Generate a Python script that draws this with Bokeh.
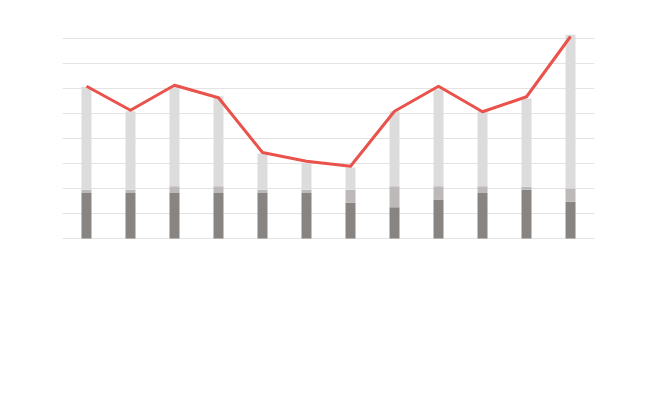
from bokeh.plotting import figure
from bokeh.models import ColumnDataSource, FixedTicker, Range1d
from bokeh.embed import file_html
from bokeh.resources import INLINE

# Data (unit = one gridline step)
months = [str(i) for i in range(1, 13)]
base_vals = [1.82, 1.82, 1.82, 1.82, 1.82, 1.82, 1.43, 1.25, 1.56, 1.82, 1.95, 1.47]
mid_vals = [0.13, 0.13, 0.27, 0.27, 0.13, 0.13, 0.52, 0.84, 0.53, 0.27, 0.12, 0.53]
top_vals = [4.12, 3.14, 3.98, 3.60, 1.45, 1.08, 0.89, 3.00, 3.87, 3.00, 3.53, 6.15]
line_vals = [6.09, 5.13, 6.13, 5.63, 3.44, 3.09, 2.89, 5.09, 6.09, 5.07, 5.67, 8.08]

xs = list(range(len(months)))
src = ColumnDataSource(dict(x=xs, base=base_vals, mid=mid_vals, top=top_vals, line=line_vals))

p = figure(frame_width=532, frame_height=206, width=648, height=408,
           x_range=Range1d(-0.545, 11.545), y_range=Range1d(-0.04, 8.2),
           output_backend="svg", toolbar_location=None,
           min_border_left=62, min_border_right=54, min_border_top=33, min_border_bottom=169)

p.vbar_stack(["base", "mid", "top"], x="x", width=0.227, source=src,
             color=["#888482", "#bdb9b8", "#dcdcdc"], line_color=None)
p.line("x", "line", source=src, line_color="#e9534b", line_width=3, line_join="round")

p.xaxis.visible = False
p.yaxis.visible = False
p.xgrid.visible = False
p.ygrid.ticker = FixedTicker(ticks=list(range(0, 9)))
p.ygrid.grid_line_color = "#e3e3e3"
p.ygrid.grid_line_width = 1
p.outline_line_color = None
p.background_fill_color = "white"
p.border_fill_color = "white"

open("out.html", "w").write(file_html(p, INLINE))
